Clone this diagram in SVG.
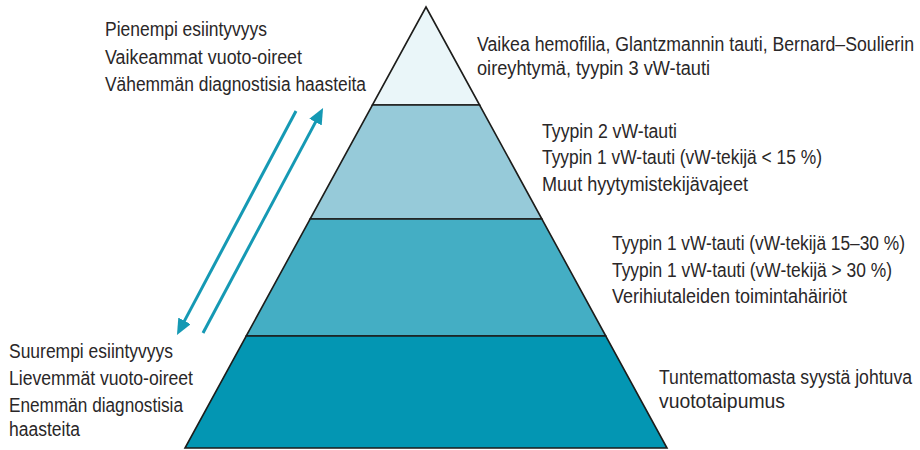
<svg xmlns="http://www.w3.org/2000/svg" width="920" height="450" viewBox="0 0 920 450">
<defs>
<style>
.t{font-family:"Liberation Sans Narrow","Liberation Sans",Arial,sans-serif;font-size:20px;fill:#2a2728;}
.lv{stroke:#1d1d1b;stroke-width:1.6;stroke-linejoin:miter;}
.arr{stroke:#1599b4;stroke-width:3;fill:none;}
</style>
<marker id="ah" viewBox="0 0 16 14" refX="4" refY="7" markerWidth="16" markerHeight="14" markerUnits="userSpaceOnUse" orient="auto">
<path d="M0,0 L16,7 L0,14 z" fill="#1599b4"/>
</marker>
</defs>
<rect width="920" height="450" fill="#ffffff"/>
<g id="pyramid">
<g id="level1"><polygon class="lv" points="426,7 479.6,105 372.4,105" fill="#eaf6f9"/></g>
<g id="level2"><polygon class="lv" points="372.4,105 479.6,105 541.9,219 310.1,219" fill="#96cad9"/></g>
<g id="level3"><polygon class="lv" points="310.1,219 541.9,219 605.8,336 246.2,336" fill="#44aec4"/></g>
<g id="level4"><polygon class="lv" points="246.2,336 605.8,336 667,448 185,448" fill="#0396b3"/></g>
</g>
<g id="connectors">
<line class="arr" x1="296" y1="111" x2="182.6" y2="324.4" marker-end="url(#ah)"/>
<line class="arr" x1="203" y1="333" x2="317.4" y2="118.6" marker-end="url(#ah)"/>
</g>
<g id="label-top-left">
<text class="t" x="105" y="36" textLength="162" lengthAdjust="spacingAndGlyphs">Pienempi esiintyvyys</text>
<text class="t" x="105" y="63.5" textLength="197" lengthAdjust="spacingAndGlyphs">Vaikeammat vuoto-oireet</text>
<text class="t" x="105" y="90.5" textLength="261" lengthAdjust="spacingAndGlyphs">Vähemmän diagnostisia haasteita</text>
</g>
<g id="label-bottom-left">
<text class="t" x="9" y="358" textLength="164" lengthAdjust="spacingAndGlyphs">Suurempi esiintyvyys</text>
<text class="t" x="9" y="385" textLength="184" lengthAdjust="spacingAndGlyphs">Lievemmät vuoto-oireet</text>
<text class="t" x="9" y="412" textLength="174" lengthAdjust="spacingAndGlyphs">Enemmän diagnostisia</text>
<text class="t" x="9" y="435.5" textLength="71" lengthAdjust="spacingAndGlyphs">haasteita</text>
</g>
<g id="label-level1">
<text class="t" x="477" y="50.5" textLength="437" lengthAdjust="spacingAndGlyphs">Vaikea hemofilia, Glantzmannin tauti, Bernard–Soulierin</text>
<text class="t" x="477" y="75" textLength="233" lengthAdjust="spacingAndGlyphs">oireyhtymä, tyypin 3 vW-tauti</text>
</g>
<g id="label-level2">
<text class="t" x="542" y="138" textLength="135" lengthAdjust="spacingAndGlyphs">Tyypin 2 vW-tauti</text>
<text class="t" x="542" y="164" textLength="280" lengthAdjust="spacingAndGlyphs">Tyypin 1 vW-tauti (vW-tekijä &lt; 15 %)</text>
<text class="t" x="542" y="190.5" textLength="206" lengthAdjust="spacingAndGlyphs">Muut hyytymistekijävajeet</text>
</g>
<g id="label-level3">
<text class="t" x="612" y="250" textLength="293" lengthAdjust="spacingAndGlyphs">Tyypin 1 vW-tauti (vW-tekijä 15–30 %)</text>
<text class="t" x="612" y="276.5" textLength="280" lengthAdjust="spacingAndGlyphs">Tyypin 1 vW-tauti (vW-tekijä &gt; 30 %)</text>
<text class="t" x="612" y="303" textLength="235" lengthAdjust="spacingAndGlyphs">Verihiutaleiden toimintahäiriöt</text>
</g>
<g id="label-level4">
<text class="t" x="659" y="383.5" textLength="253" lengthAdjust="spacingAndGlyphs">Tuntemattomasta syystä johtuva</text>
<text class="t" x="659" y="408" textLength="126" lengthAdjust="spacingAndGlyphs">vuototaipumus</text>
</g>
</svg>
